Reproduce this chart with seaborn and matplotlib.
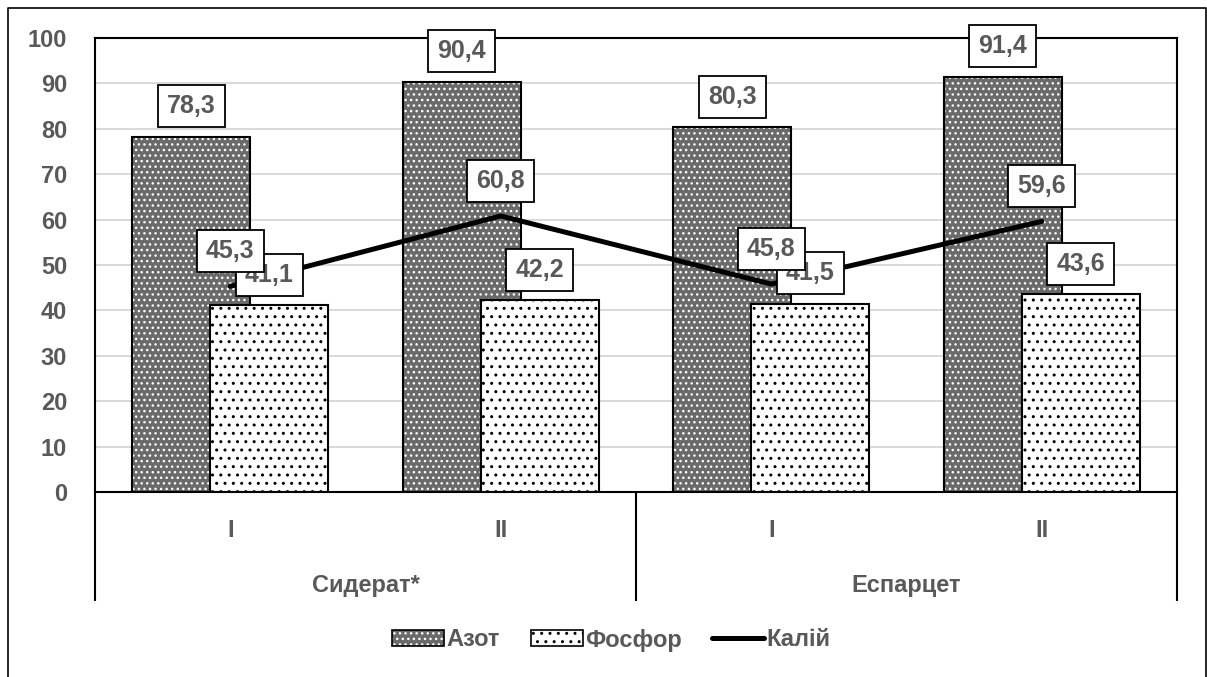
import numpy as np
import matplotlib
matplotlib.use('Agg')
import matplotlib.pyplot as plt
import matplotlib.transforms as mtransforms
from matplotlib.patches import Patch
from matplotlib.lines import Line2D
from matplotlib.legend_handler import HandlerTuple
import seaborn as sns

# ---- data ----
subcats = ['I', 'II', 'I', 'II']
groups = ['Сидерат*', 'Еспарцет']
azot = [78.3, 90.4, 80.3, 91.4]
fosfor = [41.1, 42.2, 41.5, 43.6]
kaliy = [45.3, 60.8, 45.8, 59.6]
series_names = ['Азот', 'Фосфор', 'Калій']
yticks = list(range(0, 101, 10))

# ---- style ----
sns.set_style('white')
plt.rcParams['font.family'] = ['Liberation Sans', 'DejaVu Sans']
plt.rcParams['hatch.linewidth'] = 1.0

TEXT = '#595959'
AZOT_FACE = '#6a6a6a'
GRID = '#d9d9d9'
FS_TICK = 17
FS_LABEL = 18
FS_CAT = 17

W, H = 1207, 677
fig = plt.figure(figsize=(W / 100, H / 100), dpi=100)
ax = fig.add_axes([95 / W, 1 - 492 / H, (1177 - 95) / W, (492 - 38) / H])

pos = np.arange(len(subcats))
shift = 0.144   # half-distance between the two overlapping bars
bw = 0.436      # bar width

# nitrogen: grey fill with white dot hatch, then black outline
sns.barplot(x=pos - shift, y=azot, native_scale=True, orient='x', width=bw,
            color=AZOT_FACE, saturation=1, edgecolor='white', linewidth=0,
            hatch='...', errorbar=None, ax=ax)
sns.barplot(x=pos - shift, y=azot, native_scale=True, orient='x', width=bw,
            fill=False, color='black', linewidth=1.5, errorbar=None, ax=ax)
# phosphorus: white with black dots
sns.barplot(x=pos + shift, y=fosfor, native_scale=True, orient='x', width=bw,
            color='white', saturation=1, edgecolor='black', linewidth=1.5,
            hatch='..', errorbar=None, ax=ax)
# potassium line
sns.lineplot(x=pos, y=kaliy, color='black', linewidth=3.6, ax=ax)

ax.set_xlim(-0.5, len(subcats) - 0.5)
ax.set_ylim(0, 100)
ax.set_yticks(yticks)
ax.set_xticks([])
ax.set_xlabel('')
ax.set_ylabel('')
ax.yaxis.grid(True, color=GRID, linewidth=1.4)
ax.set_axisbelow(True)
for sp in ax.spines.values():
    sp.set_visible(True)
    sp.set_color('black')
    sp.set_linewidth(1.5)
ax.tick_params(axis='y', length=0, pad=20, labelsize=FS_TICK, labelcolor=TEXT)
for lbl in ax.get_yticklabels():
    lbl.set_fontweight('bold')


def fmt(v):
    return f'{v:.1f}'.replace('.', ',')


box = dict(boxstyle='square,pad=0.36', fc='white', ec='black', lw=1.3)


def boxed(x, y, val, dy, z):
    ax.annotate(fmt(val), xy=(x, y), xytext=(0, dy), textcoords='offset points',
                ha='center', va='center', fontsize=FS_LABEL, fontweight='bold',
                color=TEXT, bbox=box, zorder=z)


for p, v in zip(pos - shift, azot):
    boxed(p, v, v, 22, 5)
for p, v in zip(pos + shift, fosfor):
    boxed(p, v, v, 22, 5)
for p, v in zip(pos, kaliy):
    boxed(p, v, v, 25.5, 6)

# two-level category axis
trans = mtransforms.blended_transform_factory(ax.transData, ax.transAxes)
for p, s in zip(pos, subcats):
    ax.text(p, -0.084, s, transform=trans, ha='center', va='center',
            fontsize=FS_CAT, fontweight='bold', color=TEXT)
group_centers = pos.reshape(len(groups), -1).mean(axis=1)
for gc, g in zip(group_centers, groups):
    ax.text(gc, -0.205, g, transform=trans, ha='center', va='center',
            fontsize=FS_CAT, fontweight='bold', color=TEXT)
per_group = len(subcats) // len(groups)
for xs in np.arange(0, len(subcats) + 1, per_group) - 0.5:
    ax.plot([xs, xs], [0, -0.24], transform=trans, color='black', lw=1.5,
            clip_on=False, solid_capstyle='butt')

# legend
h_az = (Patch(facecolor=AZOT_FACE, edgecolor='white', hatch='...', lw=0),
        Patch(facecolor='none', edgecolor='black', lw=1.2))
h_fo = Patch(facecolor='white', edgecolor='black', hatch='..', lw=1.2)
h_ka = Line2D([], [], color='black', lw=3.6)
leg = fig.legend([h_az, h_fo, h_ka], series_names,
                 handler_map={tuple: HandlerTuple(ndivide=1, pad=0)},
                 loc='center', bbox_to_anchor=(0.5066, 1 - 640 / H), ncol=3,
                 frameon=False, handlelength=2.2, handleheight=0.65,
                 handletextpad=0.1, columnspacing=1.3,
                 prop=dict(weight='bold', size=17))
for t in leg.get_texts():
    t.set_color(TEXT)

# chart frame
fig.add_artist(Line2D([8 / W, 8 / W, 1206 / W, 1206 / W], [-0.01, 1 - 8 / H, 1 - 8 / H, -0.01],
                      transform=fig.transFigure, color='black', lw=1.2))

fig.savefig('out.png', dpi=100)
